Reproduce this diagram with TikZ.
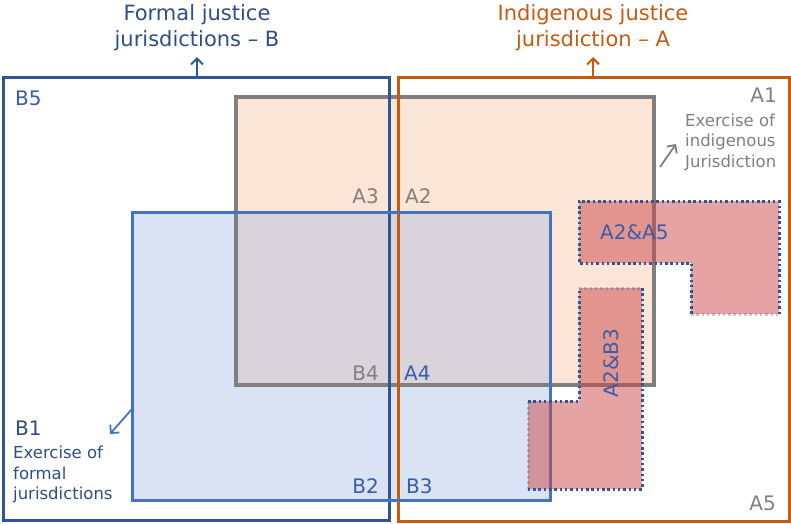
\documentclass[tikz,border=0pt]{standalone}
\usepackage{fontspec}
\setmainfont{DejaVu Sans}
\usetikzlibrary{arrows.meta}
\definecolor{frameB}{HTML}{2F5597}
\definecolor{frameA}{HTML}{C55A11}
\definecolor{greyline}{HTML}{7F7F7F}
\definecolor{blueline}{HTML}{4472C4}
\definecolor{peach}{HTML}{FBE5D6}
\definecolor{lightblue}{HTML}{DAE3F3}
\definecolor{mixed}{HTML}{D9D4DC}
\definecolor{redfill}{RGB}{203,71,71}
\definecolor{navy}{HTML}{2F4E84}
\definecolor{midblue}{HTML}{3B5CA8}
\definecolor{greytext}{HTML}{808080}

\begin{document}
\begin{tikzpicture}[x=1pt,y=-1pt,
    lbl/.style={inner sep=0pt,font=\fontsize{20}{23}\selectfont},
    note/.style={inner sep=0pt,align=left,font=\fontsize{16.5}{20.5}\selectfont},
    ttl/.style={inner sep=0pt,align=center,font=\fontsize{21}{26}\selectfont},
    arr/.style={line width=2pt,-{Straight Barb[length=6pt,width=12pt]}},
    dotline/.style={frameB,line width=3pt,dash pattern=on 2.5pt off 2.8pt},
    faint/.style={dotline,draw opacity=.3}]
  \useasboundingbox (0,0) rectangle (791,523);

  % fills of the two inner areas and their overlap
  \fill[peach] (236,97) rectangle (654,385);
  \fill[lightblue] (132,212) rectangle (550,500);
  \fill[mixed] (236,212) rectangle (550,385);

  % outlines
  \draw[greyline,line width=3.2pt] (236,97) rectangle (654,385);
  \draw[frameB,line width=3pt] (3,77) rectangle (389,520);
  \draw[frameA,line width=3pt] (398,77) rectangle (789,521);
  \draw[blueline,line width=3pt] (132,212) rectangle (550,500);

  % shared areas
  \fill[redfill,fill opacity=.5] (579,201) -- (779,201) -- (779,314)
       -- (691,314) -- (691,263) -- (579,263) -- cycle;
  \draw[dotline] (779,314) -- (779,201) -- (579,201) -- (579,263)
       -- (691,263) -- (691,314);
  \draw[faint] (691,314) -- (779,314);
  \fill[redfill,fill opacity=.5] (579,288) -- (642,288) -- (642,489)
       -- (528,489) -- (528,401) -- (579,401) -- cycle;
  \draw[dotline] (642,288) -- (642,489) -- (528,489);
  \draw[dotline] (528,401) -- (579,401) -- (579,288);
  \draw[faint] (579,288) -- (642,288);
  \draw[faint] (528,489) -- (528,401);

  % titles
  \node[ttl,text=navy] (titleB) at (197,28) {Formal justice\\jurisdictions -- B};
  \node[ttl,text=frameA] (titleA) at (593,28) {Indigenous justice\\jurisdiction -- A};
  \coordinate (bTop) at (197,76);
  \coordinate (bTip) at (197,57);
  \coordinate (aTop) at (593,76);
  \coordinate (aTip) at (593,57);
  \draw[arr,frameB] (bTop) -- (bTip);
  \draw[arr,frameA] (aTop) -- (aTip);

  % area labels
  \node[lbl,text=midblue,anchor=west] (b5) at (15,98) {B5};
  \node[lbl,text=greytext,anchor=east] (a1) at (777,95) {A1};
  \node[lbl,text=greytext,anchor=east] (a3) at (379,196) {A3};
  \node[lbl,text=greytext,anchor=west] (a2) at (405,196) {A2};
  \node[lbl,text=greytext,anchor=east] (b4) at (379,373) {B4};
  \node[lbl,text=midblue,anchor=west] (a4) at (404,373) {A4};
  \node[lbl,text=midblue,anchor=east] (b2) at (379,486) {B2};
  \node[lbl,text=midblue,anchor=west] (b3) at (406,486) {B3};
  \node[lbl,text=greytext,anchor=east] (a5) at (776,503) {A5};
  \node[lbl,text=navy,anchor=west] (b1) at (15,428) {B1};
  \node[lbl,text=midblue,anchor=west] (a2a5) at (600,232) {A2\&A5};
  \node[lbl,text=midblue,rotate=90] (a2b3) at (611,363) {A2\&B3};

  % notes
  \node[note,text=greytext,anchor=west] (indig) at (685,142)
       {Exercise of\\indigenous\\Jurisdiction};
  \node[note,text=navy,anchor=north west] (formal) at (13,446)
       {Exercise of\\formal\\jurisdictions};
  \coordinate (gFrom) at (660,167);
  \coordinate (gTo) at (676,144);
  \draw[arr,greyline,line width=1.8pt] (gFrom) -- (gTo);
  \coordinate (fFrom) at (132,409);
  \coordinate (fTo) at (110,434);
  \draw[arr,blueline,line width=1.8pt] (fFrom) -- (fTo);
\end{tikzpicture}
\end{document}
